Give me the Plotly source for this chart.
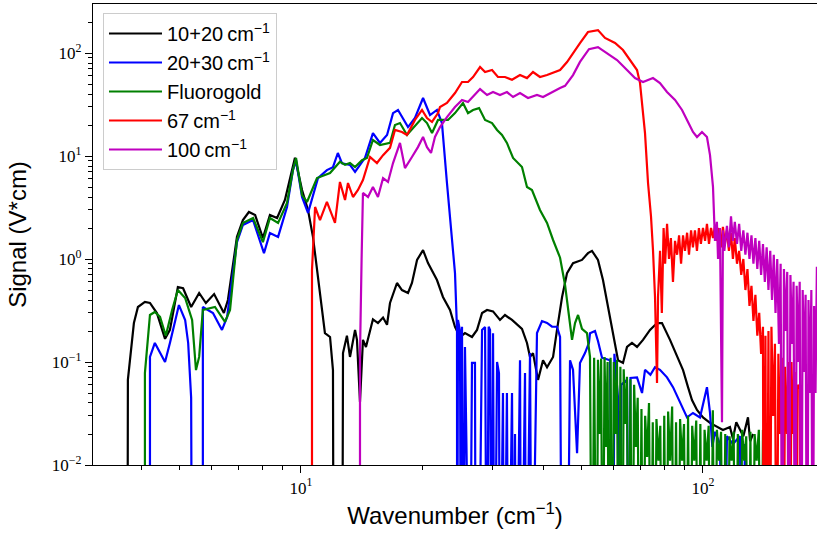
import plotly.graph_objects as go

FLOOR = 1e-4  # values below the axis floor (non-positive in the original)

names = ["10+20\u2009cm<sup>\u22121</sup>", "20+30\u2009cm<sup>\u22121</sup>", "Fluorogold",
         "67\u2009cm<sup>\u22121</sup>", "100\u2009cm<sup>\u22121</sup>"]
colors = ["#000000", "#0000ff", "#008000", "#ff0000", "#bf00bf"]

black = [(3.70, FLOOR), (3.71, 0.067), (3.84, 0.239), (3.93, 0.342), (4.09, 0.383), (4.21, 0.374),
         (4.38, 0.299), (4.59, 0.168), (4.72, 0.205), (4.94, 0.535), (5.09, 0.52), (5.33, 0.342),
         (5.58, 0.468), (5.80, 0.374), (6.08, 0.457), (6.43, 0.299), (6.58, 0.40), (6.93, 1.64),
         (7.17, 2.39), (7.42, 2.86), (7.69, 2.67), (8.04, 1.60), (8.37, 2.67), (8.72, 2.50),
         (9.12, 3.74), (9.50, 7.3), (9.66, 9.6), (10.06, 4.68), (10.41, 2.99), (10.71, 1.64),
         (11.15, 0.468), (11.47, 0.191), (11.81, 0.175), (12.01, 0.0835), (12.06, FLOOR),
         (12.66, FLOOR), (12.72, 0.122), (13.01, 0.18), (13.24, 0.112), (13.63, 0.205),
         (13.78, 0.164), (14.02, 0.041), (14.26, 0.164), (14.51, 0.140), (15.10, 0.26),
         (15.54, 0.239), (16.00, 0.27), (16.37, 0.23), (16.65, 0.374), (17.33, 0.585),
         (17.83, 0.50), (18.46, 0.468), (18.88, 0.585), (19.44, 0.98), (20.12, 1.22),
         (20.70, 0.914), (21.79, 0.625), (22.55, 0.428), (23.48, 0.32), (24.16, 0.219),
         (24.86, 0.175), (25.58, 0.191), (26.63, 0.175), (27.41, 0.205), (28.21, 0.299),
         (29.03, 0.32), (30.04, 0.31), (31.26, 0.256), (32.17, 0.286), (33.49, 0.256),
         (35.46, 0.21), (36.49, 0.153), (37.13, 0.112), (37.77, 0.122), (38.87, 0.067),
         (40.00, 0.104), (40.93, 0.089), (42.37, 0.112), (43.34, 0.205), (44.61, 0.428),
         (45.90, 0.73), (47.50, 0.91), (50.00, 0.98), (51.75, 1.14), (52.95, 1.2),
         (54.80, 0.98), (56.39, 0.625), (58.71, 0.274), (60.42, 0.153), (61.47, 0.104),
         (63.24, 0.098), (64.71, 0.14), (66.58, 0.153), (68.53, 0.14), (70.92, 0.164),
         (73.83, 0.205), (76.85, 0.239), (79.07, 0.239), (82.79, 0.164), (86.18, 0.112),
         (89.21, 0.0835), (91.78, 0.057), (93.89, 0.0428), (96.62, 0.0342), (100.0, 0.029),
         (104.1, 0.0256), (108.3, 0.0234), (112.1, 0.0219), (116.7, 0.0234), (118.7, 0.018),
         (121.0, 0.026), (123.6, 0.0219), (126.0, 0.019), (129.4, 0.029), (131.0, 0.017),
         (133.2, 0.02)]

blue = [(4.21, FLOOR), (4.21, 0.112), (4.33, 0.153), (4.59, 0.10), (4.72, 0.153), (4.97, 0.357),
        (5.15, 0.256), (5.24, 0.153), (5.33, 0.045), (5.36, FLOOR), (5.70, FLOOR), (5.70, 0.342),
        (6.04, 0.299), (6.36, 0.205), (6.55, 0.274), (6.93, 1.46), (7.17, 2.14), (7.60, 2.39),
        (7.86, 1.60), (8.09, 1.14), (8.37, 1.79), (8.77, 1.64), (9.23, 3.2), (9.55, 7.3),
        (9.72, 9.1), (10.06, 4.0), (10.41, 2.80), (11.02, 6.1), (11.60, 7.3), (12.01, 7.8),
        (12.35, 10.7), (12.65, 8.5), (13.24, 8.2), (13.63, 7.0), (14.43, 9.6), (15.10, 16.7),
        (15.72, 13.4), (16.37, 16.0), (16.94, 26.1), (17.43, 28.0), (18.46, 19.1), (19.21, 23.4),
        (20.12, 36.6), (20.94, 25.0), (21.79, 28.0), (22.42, 20.9), (23.07, 5.5), (23.88, 1.22),
        (24.16, 0.73), (24.44, 0.205), (24.45, FLOOR), (24.58, 0.256), (24.86, 0.2), (25.0, FLOOR),
        (25.15, 0.22), (25.3, FLOOR), (25.58, 0.14), (25.8, FLOOR), (26.3, FLOOR), (26.63, 0.098),
        (27.09, 0.098), (27.2, FLOOR), (27.6, FLOOR), (28.21, 0.205), (28.7, 0.219), (29.0, FLOOR),
        (29.3, 0.22), (29.53, 0.205), (29.8, FLOOR), (30.04, 0.19), (30.3, FLOOR), (30.74, 0.10),
        (31.08, 0.078), (31.26, FLOOR), (31.8, 0.05), (32.0, FLOOR), (32.53, 0.05), (32.8, FLOOR),
        (33.49, 0.05), (33.8, FLOOR), (34.07, 0.02), (34.3, FLOOR), (35.06, 0.104), (35.3, FLOOR),
        (36.08, 0.078), (36.3, FLOOR), (37.13, 0.122), (37.5, FLOOR), (38.64, 0.191), (39.77, 0.25),
        (40.93, 0.24), (42.12, 0.22), (43.34, 0.22), (44.10, 0.175), (44.6, FLOOR), (45.9, FLOOR),
        (46.69, 0.104), (47.50, 0.084), (48.61, 0.013), (49.43, 0.098), (50.87, 0.122),
        (52.04, 0.153), (52.35, 0.19), (53.87, 0.2), (54.80, 0.16), (56.08, 0.11), (58.71, 0.104),
        (59.73, FLOOR), (60.2, 0.12), (61.47, 0.045), (62.0, FLOOR), (62.6, 0.06), (64.71, 0.067),
        (65.5, FLOOR), (66.0, 0.07), (68.53, 0.071), (70.53, 0.05), (71.74, 0.084), (74.0, 0.075),
        (75.97, 0.089), (78.16, 0.084), (81.37, 0.071), (84.23, 0.057), (87.68, 0.040),
        (91.26, 0.029), (94.43, 0.032), (98.29, 0.029), (102.3, 0.057), (104.1, 0.032),
        (105.5, 0.015), (107.1, 0.021), (110.2, 0.016), (112.5, FLOOR), (114.7, 0.019),
        (118.7, 0.016), (123.6, 0.019), (125.0, FLOOR), (127.2, 0.016), (127.5, FLOOR)]

green = [(4.09, FLOOR), (4.09, 0.078), (4.21, 0.286), (4.33, 0.306), (4.46, 0.274), (4.61, 0.18),
         (4.78, 0.32), (4.94, 0.50), (5.15, 0.418), (5.36, 0.256), (5.48, 0.0835), (5.58, 0.112),
         (5.70, 0.32), (6.11, 0.342), (6.47, 0.245), (6.66, 0.32), (6.93, 1.53), (7.17, 2.24),
         (7.60, 2.50), (8.04, 1.46), (8.37, 2.50), (8.77, 2.24), (9.23, 3.5), (9.55, 7.3),
         (9.72, 9.57), (10.06, 4.18), (10.35, 3.58), (10.96, 6.11), (11.81, 6.84), (12.50, 8.8),
         (12.87, 8.2), (13.24, 8.55), (13.63, 7.8), (14.18, 9.1), (14.59, 9.57), (15.10, 14.3),
         (15.72, 12.8), (16.65, 13.4), (17.13, 20.0), (17.63, 20.9), (18.35, 16.0), (18.99, 18.7),
         (20.0, 23.4), (20.58, 20.9), (21.18, 16.7), (21.92, 22.4), (22.55, 22.4), (23.21, 22.4),
         (24.16, 26.1), (25.29, 32.7), (26.03, 26.1), (26.79, 28.0), (27.73, 29.2), (28.70, 22.4),
         (29.87, 20.9), (30.74, 17.9), (31.62, 16.0), (32.53, 13.4), (33.69, 9.57), (35.46, 7.82),
         (36.49, 5.0), (37.55, 4.68), (39.31, 2.99), (40.93, 2.24), (42.37, 1.53), (43.34, 1.22),
         (44.10, 1.03), (45.38, 0.56), (46.16, 0.342), (47.23, 0.164), (48.05, 0.239),
         (48.89, 0.286), (50.0, 0.21), (51.45, 0.191), (52.35, 0.112), (52.95, FLOOR),
         (53.6, 0.11), (53.9, 0.03), (54.4, FLOOR), (54.8, 0.105), (55.3, 0.02), (55.8, 0.108),
         (56.3, FLOOR), (56.9, 0.112), (57.4, 0.015), (57.9, 0.10), (58.4, FLOOR), (58.9, 0.11),
         (59.4, FLOOR), (60.0, 0.10), (60.6, 0.02), (61.1, 0.105), (61.7, FLOOR), (62.3, 0.09),
         (62.9, FLOOR), (63.5, 0.085), (64.1, 0.025), (64.7, 0.072), (65.3, FLOOR), (66.0, 0.068),
         (66.7, FLOOR), (67.4, 0.06), (68.1, 0.015), (68.8, 0.045), (69.5, FLOOR), (70.3, 0.035),
         (71.0, FLOOR), (71.8, 0.03), (72.6, 0.012), (73.4, 0.04), (74.2, FLOOR), (75.0, 0.026),
         (75.8, FLOOR), (76.6, 0.028), (77.5, 0.011), (78.3, 0.024), (79.2, FLOOR), (80.1, 0.03),
         (81.0, FLOOR), (81.9, 0.033), (82.8, 0.011), (83.8, 0.037), (84.7, FLOOR), (85.7, 0.026),
         (86.7, FLOOR), (87.7, 0.028), (88.7, 0.011), (89.7, 0.025), (90.8, FLOOR), (91.8, 0.03),
         (92.9, FLOOR), (94.0, 0.024), (95.1, 0.011), (96.2, 0.027), (97.3, FLOOR), (98.5, 0.025),
         (99.7, FLOOR), (100.9, 0.022), (102.1, 0.011), (103.3, 0.024), (104.5, FLOOR),
         (105.8, 0.034), (107.0, FLOOR), (108.3, 0.022), (109.6, 0.011), (110.9, 0.021),
         (112.2, FLOOR), (113.6, 0.02), (115.0, FLOOR), (116.4, 0.019), (117.8, 0.011),
         (119.2, 0.021), (120.6, FLOOR), (122.1, 0.02), (123.6, FLOOR), (125.1, 0.022),
         (126.6, 0.011), (128.1, 0.019), (129.7, FLOOR), (131.2, 0.021), (132.8, FLOOR),
         (134.4, 0.02), (136.0, 0.011), (137.7, 0.022), (139.4, FLOOR), (141.0, 0.022),
         (141.2, FLOOR)]

red = [(10.65, FLOOR), (10.65, 0.78), (10.84, 3.2), (11.15, 2.39), (11.60, 3.58), (12.15, 2.24),
       (12.50, 5.6), (12.87, 3.74), (13.09, 5.47), (13.47, 4.0), (13.86, 4.68), (14.26, 5.85),
       (14.85, 9.78), (15.45, 8.55), (16.00, 10.2), (16.65, 12.0), (17.13, 17.9), (17.83, 17.1),
       (18.35, 16.0), (19.21, 22.4), (20.0, 28.0), (20.58, 23.4), (21.18, 21.4), (21.92, 26.1),
       (22.17, 29.9), (23.07, 32.7), (24.16, 40.9), (25.15, 52.3), (26.03, 52.3), (26.79, 58.5),
       (27.89, 73.1), (28.70, 65.4), (29.87, 68.4), (30.90, 58.5), (32.17, 58.5), (33.49, 55.0),
       (35.06, 61.1), (36.49, 57.1), (37.77, 65.4), (39.31, 58.5), (40.93, 61.1), (42.37, 64.0),
       (44.10, 68.4), (45.90, 81.8), (47.50, 100), (49.43, 125), (51.75, 160), (54.80, 167),
       (57.05, 140), (60.42, 125), (63.24, 107), (66.58, 80), (68.53, 68.4), (69.72, 51.1),
       (71.74, 16.7), (72.99, 5.47), (74.24, 2.6), (75.10, 1.22), (75.97, 0.43), (76.85, 0.0625),
       (77.3, 0.43), (78.2, 1.2), (79.0, 0.3), (79.8, 2.0), (80.5, 0.9), (81.4, 2.2), (82.3, 1.0),
       (83.2, 1.6), (84.2, 0.6), (85.2, 1.5), (86.2, 1.1), (87.2, 1.7), (88.2, 0.9), (89.2, 1.7),
       (90.2, 1.2), (91.3, 1.8), (92.3, 1.1), (93.4, 1.9), (94.4, 1.3), (95.5, 1.9), (96.6, 1.2),
       (97.7, 2.0), (98.8, 1.4), (100.0, 2.0), (101.2, 1.5), (102.3, 2.2), (103.5, 1.4),
       (104.7, 2.0), (105.9, 1.6), (107.1, 2.1), (108.3, 1.5), (109.5, 2.0), (110.8, 1.3),
       (112.1, 2.05), (113.4, 1.4), (114.7, 1.9), (116.0, 1.2), (117.4, 1.8), (118.7, 1.0),
       (120.0, 1.6), (121.5, 0.9), (123.0, 1.2), (124.5, 0.7), (126.0, 1.0), (127.5, 0.5),
       (129.0, 0.8), (130.5, 0.35), (132.0, 0.55), (133.5, 0.25), (135.0, 0.45), (136.5, 0.18),
       (138.0, 0.3), (139.5, 0.12), (141.0, 0.22), (141.5, FLOOR), (143.0, 0.18), (144.0, FLOOR),
       (145.5, 0.2), (146.5, FLOOR), (148.0, 0.22), (149.5, 0.03), (151.0, 0.15), (152.5, FLOOR),
       (154.0, 0.12), (155.5, 0.02), (157.0, 0.11), (158.5, FLOOR), (160.0, 0.09), (161.8, 0.02),
       (163.0, 0.10), (164.5, FLOOR), (166.0, 0.10), (167.5, 0.02), (169.0, 0.08), (170.5, FLOOR),
       (172.0, 0.06), (174.3, 0.055), (175.0, FLOOR)]

magenta = [(14.02, FLOOR), (14.02, 0.12), (14.15, 1.0), (14.26, 4.38), (14.68, 4.0), (15.10, 5.0),
           (15.54, 4.0), (16.00, 6.1), (16.46, 5.6), (16.94, 8.55), (17.63, 13.4), (18.14, 7.64),
           (18.88, 9.78), (19.54, 12.2), (20.12, 15.3), (20.58, 12.2), (21.06, 10.7), (21.54, 15.3),
           (22.17, 19.1), (23.07, 23.9), (24.16, 29.9), (25.15, 35.0), (26.03, 33.4), (26.79, 37.4),
           (27.89, 44.7), (29.03, 39.1), (30.04, 41.8), (31.26, 39.1), (32.53, 41.8), (33.69, 37.4),
           (35.06, 40.9), (36.71, 36.6), (38.64, 39.1), (40.0, 37.4), (41.64, 40.9), (44.10, 45.7),
           (45.38, 48.0), (47.50, 61.1), (49.43, 82.0), (52.04, 109), (54.80, 114), (57.71, 100),
           (61.12, 85.5), (64.71, 68.4), (67.74, 57.1), (70.92, 52.3), (75.10, 57.1), (78.16, 51.1),
           (81.37, 41.8), (85.20, 35.0), (88.69, 28.0), (91.78, 21.4), (94.43, 17.1), (96.62, 15.3),
           (99.42, 17.1), (102.3, 15.3), (104.1, 10.2), (105.9, 5.0), (106.5, 2.6), (107.1, 1.5),
           (108.3, 2.3), (109.0, 1.0), (110.2, 2.0), (111.5, 0.026), (112.1, 1.9), (113.0, 1.2),
           (114.7, 2.1), (116.0, 1.3), (117.4, 2.6), (118.7, 1.5), (120.0, 2.3), (121.5, 1.4),
           (123.0, 2.2), (124.5, 1.2), (126.0, 1.9), (127.5, 1.1), (129.0, 1.8), (130.5, 1.0),
           (132.0, 1.7), (133.5, 0.9), (135.0, 1.6), (136.5, 0.8), (138.0, 1.5), (139.5, 0.7),
           (141.0, 1.4), (142.5, 0.6), (144.0, 1.3), (145.5, 0.5), (147.0, 1.2), (148.5, 0.4),
           (150.0, 1.1), (151.5, 0.3), (153.0, 1.0), (154.5, 0.15), (156.0, 0.9), (157.5, FLOOR),
           (159.0, 0.8), (160.5, 0.2), (162.0, 0.75), (163.5, FLOOR), (165.0, 0.7), (166.5, 0.15),
           (168.0, 0.6), (169.5, FLOOR), (171.0, 0.55), (172.5, 0.1), (174.0, 0.6), (175.5, FLOOR),
           (177.0, 0.5), (178.5, 0.08), (180.0, 0.45), (181.5, FLOOR), (183.0, 0.4), (184.6, 0.05),
           (186.0, 0.5), (187.5, FLOOR), (189.0, 0.35), (190.5, 0.05), (192.0, 0.84)]

series = [black, blue, green, red, magenta]

xmajor = [10, 100]
xmajor_text = ["10<sup>1</sup>", "10<sup>2</sup>"]
xminor = [4, 5, 6, 7, 8, 9, 20, 30, 40, 50, 60, 70, 80, 90, 200]
ymajor = [0.01, 0.1, 1, 10, 100]
ymajor_text = ["10<sup>\u22122</sup>", "10<sup>\u22121</sup>", "10<sup>0</sup>",
               "10<sup>1</sup>", "10<sup>2</sup>"]
yminor = [m * d for d in (0.01, 0.1, 1, 10, 100) for m in range(2, 10)]

fig = go.Figure()
for i, (name, col, data) in enumerate(zip(names, colors, series)):
    xs, ys = zip(*data)
    fig.add_trace(go.Scatter(x=list(xs), y=list(ys), mode="lines", name=name,
                             line=dict(color=col, width=2.2)))

tickfont = dict(family="Liberation Serif", size=17, color="black")
fig.update_layout(
    width=817, height=534,
    margin=dict(l=93, r=0, t=4, b=69, autoexpand=False),
    plot_bgcolor="white", paper_bgcolor="white",
    showlegend=True,
    legend=dict(x=0.0138, y=0.9805, xanchor="left", yanchor="top",
                font=dict(family="Liberation Sans", size=20, color="black"),
                bgcolor="rgba(255,255,255,0.85)", bordercolor="#cccccc", borderwidth=1,
                tracegroupgap=0, itemwidth=53),
    xaxis=dict(type="log", range=[0.4826, 2.2836], showline=True, linecolor="black",
               linewidth=1.3, mirror=True, showgrid=False, zeroline=False,
               tickmode="array", tickvals=xmajor, ticktext=xmajor_text,
               ticks="outside", ticklen=7, tickwidth=1.2, tickcolor="black", tickfont=tickfont,
               minor=dict(tickmode="array", tickvals=xminor, ticks="outside", ticklen=4,
                          tickwidth=0.9, tickcolor="black", showgrid=False),
               title=dict(text="Wavenumber (cm<sup>\u22121</sup>)", standoff=10,
                          font=dict(family="Liberation Sans", size=24, color="black"))),
    yaxis=dict(type="log", range=[-2, 2.476], showline=True, linecolor="black",
               linewidth=1.3, mirror=False, showgrid=False, zeroline=False,
               tickmode="array", tickvals=ymajor, ticktext=ymajor_text,
               ticks="outside", ticklen=7, tickwidth=1.2, tickcolor="black", tickfont=tickfont,
               minor=dict(tickmode="array", tickvals=yminor, ticks="outside", ticklen=4,
                          tickwidth=0.9, tickcolor="black", showgrid=False),
               title=dict(text="Signal (V*cm)", standoff=18,
                          font=dict(family="Liberation Sans", size=24, color="black"))),
)

fig.write_html("out.html")
